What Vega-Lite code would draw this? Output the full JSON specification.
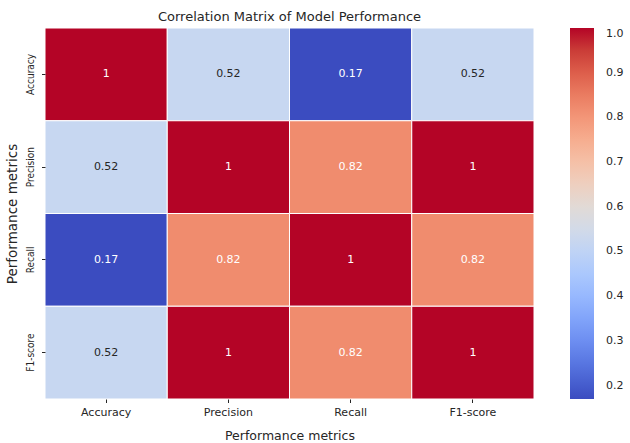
{
  "$schema": "https://vega.github.io/schema/vega-lite/v6.json",
  "width": 489,
  "height": 371,
  "autosize": "none",
  "padding": {"left": 45, "top": 28, "right": 96, "bottom": 44},
  "background": "white",
  "title": {
    "text": "Correlation Matrix of Model Performance",
    "font": "DejaVu Sans",
    "fontSize": 13,
    "fontWeight": "normal",
    "color": "#262626",
    "anchor": "middle",
    "offset": 4
  },
  "data": {
    "values": [
      {"row": "Accuracy", "col": "Accuracy", "value": 1},
      {"row": "Accuracy", "col": "Precision", "value": 0.52},
      {"row": "Accuracy", "col": "Recall", "value": 0.17},
      {"row": "Accuracy", "col": "F1-score", "value": 0.52},
      {"row": "Precision", "col": "Accuracy", "value": 0.52},
      {"row": "Precision", "col": "Precision", "value": 1},
      {"row": "Precision", "col": "Recall", "value": 0.82},
      {"row": "Precision", "col": "F1-score", "value": 1},
      {"row": "Recall", "col": "Accuracy", "value": 0.17},
      {"row": "Recall", "col": "Precision", "value": 0.82},
      {"row": "Recall", "col": "Recall", "value": 1},
      {"row": "Recall", "col": "F1-score", "value": 0.82},
      {"row": "F1-score", "col": "Accuracy", "value": 0.52},
      {"row": "F1-score", "col": "Precision", "value": 1},
      {"row": "F1-score", "col": "Recall", "value": 0.82},
      {"row": "F1-score", "col": "F1-score", "value": 1}
    ]
  },
  "encoding": {
    "x": {
      "field": "col",
      "type": "nominal",
      "sort": ["Accuracy", "Precision", "Recall", "F1-score"],
      "scale": {"paddingInner": 0, "paddingOuter": 0},
      "axis": {
        "title": "Performance metrics",
        "titleFont": "DejaVu Sans",
        "titleFontSize": 12.5,
        "titleFontWeight": "normal",
        "titleColor": "#262626",
        "titleY": 40,
        "titleBaseline": "alphabetic",
        "labelFont": "DejaVu Sans",
        "labelFontSize": 11,
        "labelColor": "#262626",
        "labelAngle": 0,
        "labelPadding": 4,
        "tickSize": 3.5,
        "tickColor": "#262626",
        "tickWidth": 1,
        "domain": false
      }
    },
    "y": {
      "field": "row",
      "type": "nominal",
      "sort": ["Accuracy", "Precision", "Recall", "F1-score"],
      "scale": {"paddingInner": 0, "paddingOuter": 0},
      "axis": {
        "title": "Performance metrics",
        "titleFont": "DejaVu Sans",
        "titleFontSize": 13.5,
        "titleFontWeight": "normal",
        "titleColor": "#262626",
        "titleAngle": -90,
        "titleX": -33,
        "titleY": 185.5,
        "titleAlign": "center",
        "titleBaseline": "middle",
        "labelFont": "DejaVu Sans Condensed, Liberation Sans",
        "labelFontSize": 10,
        "labelColor": "#262626",
        "labelAngle": -90,
        "labelAlign": "center",
        "labelBaseline": "bottom",
        "labelPadding": 6,
        "tickSize": 3.5,
        "tickColor": "#262626",
        "tickWidth": 1,
        "domain": false
      }
    }
  },
  "layer": [
    {
      "mark": {"type": "rect", "stroke": "white", "strokeWidth": 1},
      "encoding": {
        "color": {
          "field": "value",
          "type": "quantitative",
          "scale": {
            "domain": [0.17, 0.2219, 0.2738, 0.3256, 0.3775, 0.4294, 0.4813, 0.5331, 0.585, 0.6369, 0.6888, 0.7406, 0.7925, 0.8444, 0.8963, 0.9481, 1.0],
            "range": ["#3b4cc0", "#4d68d7", "#6282ea", "#779af7", "#8db0fe", "#a3c2ff", "#b8d0f9", "#ccd9ee", "#dddddd", "#ecd3c5", "#f5c4ac", "#f7b193", "#f49a7b", "#ec7f63", "#de604d", "#cb3e38", "#b40426"],
            "interpolate": "rgb",
            "clamp": true
          },
          "legend": {
            "title": null,
            "type": "gradient",
            "direction": "vertical",
            "orient": "right",
            "offset": 36,
            "padding": 0,
            "gradientLength": 371,
            "gradientThickness": 24,
            "gradientStrokeWidth": 0,
            "values": [0.2, 0.3, 0.4, 0.5, 0.6, 0.7, 0.8, 0.9, 1.0],
            "format": ".1f",
            "labelFont": "DejaVu Sans",
            "labelFontSize": 11,
            "labelColor": "#262626",
            "labelOffset": 12
          }
        }
      }
    },
    {
      "mark": {"type": "text", "font": "DejaVu Sans", "fontSize": 11},
      "encoding": {
        "text": {"field": "value", "type": "quantitative"},
        "color": {
          "condition": {"test": "datum.value > 0.3 && datum.value < 0.7", "value": "#262626"},
          "value": "white"
        }
      }
    }
  ],
  "config": {"view": {"stroke": null}}
}
